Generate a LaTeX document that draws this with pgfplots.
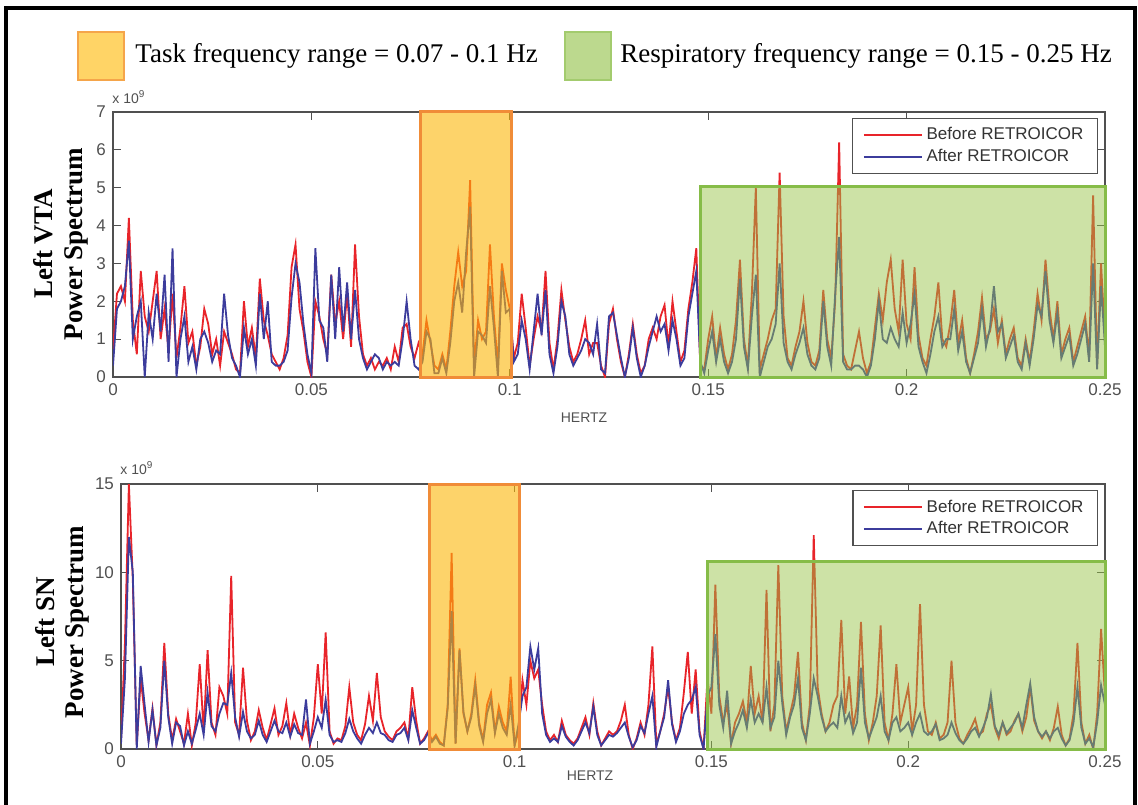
\documentclass[border=0pt]{standalone}
\usepackage{pgfplots}
\pgfplotsset{compat=1.18}
\usepackage{pgfplotstable}
\usepackage{fontspec}
\setmainfont{Liberation Serif}
\setsansfont{Liberation Sans}

\definecolor{befred}{HTML}{E8242A}
\definecolor{aftblue}{HTML}{3C3C9C}
\definecolor{taskfill}{RGB}{252,182,7}
\definecolor{taskedge}{HTML}{F08C38}
\definecolor{respfill}{RGB}{150,195,70}
\definecolor{respedge}{HTML}{86BC48}
\definecolor{axgray}{HTML}{505050}
\definecolor{keyorange}{HTML}{FFD466}
\definecolor{keyorangeedge}{HTML}{F5A54A}
\definecolor{keygreen}{HTML}{BCD98E}
\definecolor{keygreenedge}{HTML}{A3CB6E}

% power spectra, 1e9 units, one row per 0.001 Hz: b = before, a = after RETROICOR
\pgfplotstableread[row sep=\\]{
b a\\
0.7 0.3\\2.2 1.8\\2.4 2.0\\2.0 2.4\\4.2 3.6\\1.5 1.0\\0.6 1.6\\2.8 2.0\\1.6 0.0\\1.2 1.7\\
2.0 1.0\\2.8 2.2\\1.0 1.2\\1.8 2.7\\0.7 0.4\\2.2 3.4\\0.5 0.0\\1.3 1.0\\2.4 1.6\\0.9 0.4\\
1.2 0.8\\0.3 0.2\\0.8 1.0\\1.8 1.2\\1.4 0.9\\0.6 0.4\\1.0 0.7\\0.3 0.6\\1.2 2.2\\0.9 1.1\\
0.6 0.5\\0.2 0.3\\0.1 0.0\\2.0 1.3\\0.8 0.6\\1.3 1.0\\0.5 0.3\\2.6 2.2\\1.5 1.0\\1.1 2.0\\
0.6 0.4\\0.4 0.3\\0.2 0.3\\0.5 0.4\\1.1 0.7\\2.9 2.1\\3.5 3.0\\1.8 2.5\\1.2 1.4\\0.4 0.6\\
0.0 0.1\\2.0 3.4\\1.6 1.5\\1.0 1.3\\0.6 0.4\\2.7 2.7\\1.4 1.0\\2.0 2.9\\1.0 1.2\\2.2 2.5\\
0.8 1.0\\3.5 2.3\\1.6 1.0\\0.6 0.5\\0.3 0.2\\0.5 0.4\\0.2 0.6\\0.4 0.5\\0.3 0.2\\0.5 0.4\\
0.2 0.3\\0.8 0.4\\0.4 0.3\\1.3 1.0\\1.4 2.0\\0.8 1.0\\0.5 0.3\\0.9 0.2\\0.6 0.4\\1.5 1.2\\
0.9 1.0\\0.3 0.1\\0.2 0.1\\0.6 0.5\\0.2 0.1\\1.2 0.9\\2.4 2.0\\3.3 2.5\\2.4 1.7\\2.8 3.3\\
5.2 4.5\\0.3 0.0\\1.5 1.2\\1.0 1.1\\1.2 0.9\\3.5 2.4\\1.6 1.3\\0.3 0.0\\3.0 2.8\\2.3 1.7\\
1.8 1.8\\0.5 0.4\\0.9 0.6\\2.2 1.5\\1.3 1.0\\0.3 0.2\\1.0 1.2\\1.6 2.2\\1.2 1.1\\2.8 2.3\\
0.9 0.6\\0.2 0.1\\1.0 0.8\\2.3 2.0\\1.5 1.6\\0.8 0.6\\0.4 0.3\\0.6 0.5\\1.0 0.7\\1.5 1.0\\
0.6 0.9\\0.9 0.6\\0.9 1.4\\0.3 0.2\\0.0 0.1\\1.4 1.6\\1.8 1.7\\1.0 1.1\\0.4 0.5\\0.0 0.0\\
0.6 0.5\\1.4 1.3\\0.6 0.5\\0.1 0.0\\0.3 0.3\\1.0 0.8\\1.3 1.2\\1.0 1.6\\1.6 1.2\\1.9 1.4\\
0.8 0.7\\2.0 1.5\\1.2 1.0\\0.4 0.3\\0.7 0.5\\1.8 1.6\\2.5 2.2\\3.4 2.8\\0.3 0.4\\0.2 0.1\\
1.0 0.7\\1.6 1.2\\0.5 0.4\\1.3 1.0\\0.6 0.4\\0.2 0.1\\0.6 0.4\\1.5 1.0\\3.1 2.6\\1.0 0.8\\
0.3 0.2\\2.2 1.6\\5.0 2.7\\0.2 0.0\\0.6 0.4\\1.0 0.8\\1.5 1.0\\1.8 1.4\\5.4 3.0\\1.6 0.9\\
0.5 0.4\\0.3 0.2\\0.8 0.6\\1.2 0.9\\2.0 1.3\\0.9 0.6\\0.4 0.3\\0.3 0.2\\0.7 0.5\\2.3 2.0\\
1.0 0.8\\0.5 0.3\\2.0 2.2\\6.2 3.7\\0.6 0.4\\0.3 0.2\\0.2 0.2\\0.7 0.3\\1.2 0.3\\0.5 0.2\\
0.1 0.0\\0.4 0.3\\1.3 1.0\\2.2 2.0\\1.5 1.0\\2.5 0.9\\3.1 1.3\\1.8 1.0\\1.2 0.8\\3.1 1.7\\
1.4 0.9\\1.0 1.4\\2.9 2.2\\1.1 0.8\\0.5 0.4\\0.3 0.1\\1.0 0.6\\1.6 1.2\\2.5 1.6\\1.0 0.8\\
0.8 1.0\\1.4 1.0\\2.3 1.8\\0.9 0.7\\1.5 1.2\\0.5 0.4\\0.1 0.1\\0.6 0.5\\1.2 0.9\\2.1 1.8\\
1.0 0.8\\1.2 1.3\\1.8 2.4\\0.9 1.2\\1.5 1.4\\0.6 0.5\\1.0 0.8\\1.3 1.1\\0.5 0.4\\0.3 0.2\\
1.0 0.9\\0.4 0.3\\1.2 1.0\\2.2 1.9\\1.5 1.6\\3.1 2.8\\1.8 1.5\\1.0 0.9\\2.0 1.7\\0.6 0.5\\
1.0 0.8\\1.3 1.1\\0.4 0.3\\0.8 0.6\\1.2 1.0\\1.6 1.4\\0.5 0.4\\4.8 3.0\\0.3 0.2\\3.0 2.4\\
1.0 0.8\\
}\vta

\pgfplotstableread[row sep=\\]{
b a\\
0.5 0.3\\6.0 4.0\\15.0 12.0\\9.6 10.0\\0.2 0.0\\4.0 4.7\\2.0 2.5\\0.5 0.4\\2.3 2.2\\0.2 0.2\\
1.5 1.2\\6.0 5.0\\2.0 1.8\\0.5 0.3\\1.7 1.5\\1.0 1.3\\0.3 0.2\\2.0 1.0\\0.2 0.3\\1.5 1.1\\
4.8 2.0\\1.0 0.8\\5.6 3.2\\1.5 1.3\\0.8 1.0\\3.5 2.0\\3.0 2.6\\2.0 2.5\\9.8 4.3\\1.5 1.8\\
0.8 0.7\\4.6 2.1\\1.6 1.0\\0.5 0.6\\1.0 0.8\\2.2 1.6\\1.2 0.8\\0.5 0.4\\1.4 1.0\\2.3 1.6\\
0.8 1.0\\1.3 0.9\\2.6 1.5\\0.8 0.7\\2.0 1.4\\1.2 0.9\\0.6 0.8\\1.5 2.8\\0.2 0.3\\1.8 1.0\\
4.8 1.8\\2.0 1.2\\6.6 2.8\\1.0 0.8\\0.3 0.4\\0.6 0.5\\0.5 0.4\\1.3 0.9\\3.5 1.7\\1.5 1.0\\
0.8 0.6\\0.5 0.3\\1.4 0.8\\3.0 1.2\\1.6 0.9\\4.3 1.5\\1.8 0.9\\1.0 0.8\\0.7 0.5\\0.5 0.4\\
1.0 0.8\\1.2 0.9\\1.5 1.2\\0.6 0.5\\3.5 2.2\\1.6 1.2\\0.3 0.3\\0.6 0.5\\1.0 0.9\\0.5 0.4\\
0.8 0.7\\0.4 0.3\\0.2 0.2\\2.5 2.3\\11.1 7.8\\0.3 0.3\\5.7 5.6\\2.0 2.1\\1.0 1.0\\2.0 1.8\\
3.9 3.6\\1.5 1.3\\0.5 0.4\\2.5 2.0\\3.2 2.8\\1.0 0.9\\2.4 2.0\\1.5 1.2\\1.0 0.8\\4.1 2.5\\
0.2 0.2\\1.0 1.4\\3.9 3.0\\2.5 3.5\\5.0 5.8\\4.0 4.5\\4.5 5.7\\2.5 2.0\\1.0 0.8\\0.5 0.4\\
0.8 0.6\\0.4 0.4\\1.6 1.3\\0.8 0.7\\0.5 0.4\\0.3 0.2\\0.6 0.5\\1.2 1.0\\1.8 1.5\\0.8 0.9\\
2.6 2.4\\1.0 0.8\\0.2 0.2\\0.6 0.5\\1.0 0.8\\0.8 0.7\\1.0 0.9\\1.6 1.2\\2.5 1.5\\0.8 0.7\\
0.0 0.1\\0.6 0.5\\1.5 1.3\\0.8 0.9\\2.5 2.0\\5.8 3.0\\0.3 0.1\\1.0 1.0\\2.0 1.8\\3.5 3.9\\
1.5 1.4\\0.5 0.4\\1.2 1.0\\3.2 2.0\\5.5 2.5\\2.0 2.8\\4.5 3.5\\1.0 0.8\\0.0 0.0\\4.0 3.0\\
2.0 3.5\\9.3 6.5\\3.0 2.5\\1.5 1.2\\2.5 3.3\\0.3 0.3\\1.5 1.0\\2.0 1.5\\2.7 2.2\\1.5 1.2\\
4.7 2.8\\2.0 1.5\\3.0 2.0\\1.5 1.5\\9.0 3.5\\1.0 1.2\\2.5 1.8\\10.4 5.0\\3.0 2.6\\1.0 0.8\\
2.0 1.8\\3.0 2.5\\5.5 4.0\\1.5 1.2\\0.5 0.5\\2.5 2.0\\12.1 4.0\\3.5 3.0\\2.0 1.8\\1.0 1.0\\
1.5 1.3\\2.5 1.5\\3.0 1.2\\7.3 3.0\\2.0 1.5\\4.1 2.0\\1.2 0.9\\2.5 1.5\\7.2 4.6\\2.0 1.5\\
0.5 0.6\\1.5 1.2\\3.0 1.8\\7.0 3.0\\1.5 1.0\\0.5 0.5\\2.0 1.5\\4.8 1.8\\1.5 1.0\\2.5 1.2\\
3.5 1.5\\1.0 0.8\\2.5 1.5\\8.2 2.0\\2.5 1.0\\1.0 0.8\\0.8 1.0\\1.5 1.4\\0.6 0.5\\0.8 0.6\\
1.5 0.8\\5.0 1.5\\1.5 0.9\\0.6 0.5\\0.3 0.3\\0.8 0.6\\1.2 1.0\\1.7 1.2\\0.8 0.7\\1.0 1.2\\
2.0 1.8\\2.5 3.1\\1.2 1.3\\0.6 0.8\\1.5 1.5\\0.8 0.9\\1.0 1.2\\1.6 1.5\\2.0 2.0\\1.0 1.2\\
1.8 2.5\\3.5 3.7\\1.6 1.8\\1.0 1.0\\0.6 0.7\\1.0 1.0\\0.5 0.6\\1.2 1.0\\2.4 1.2\\0.8 0.6\\
0.2 0.2\\0.6 0.5\\2.0 1.5\\6.0 3.5\\1.5 1.2\\0.3 0.3\\0.8 0.6\\0.0 0.1\\2.0 1.5\\6.8 3.6\\
3.0 2.5\\
}\sn

\pgfplotsset{
  specaxis/.style={
    scale only axis, height=132.5pt,
    xmin=0, xmax=0.25, ymin=0,
    clip mode=individual,
    axis line style={axgray, line width=0.7pt},
    tick style={axgray, line width=0.6pt},
    major tick length=4pt,
    tick align=inside,
    xtick pos=both, ytick pos=both,
    xticklabel pos=lower, yticklabel pos=left,
    xtick={0,0.05,0.1,0.15,0.2,0.25},
    xticklabels={0,0.05,0.1,0.15,0.2,0.25},
    ticklabel style={font=\fontsize{8.5}{10}\sffamily, text=axgray},
    legend cell align=left,
    legend image code/.code={\draw[##1] (0pt,0pt) -- (29pt,0pt);},
    legend style={at={(0.993,0.977)}, anchor=north east,
      draw=axgray, line width=0.6pt, fill=white,
      font=\fontsize{8.5}{10}\sffamily, text=black!80,
      inner xsep=5pt, inner ysep=2.5pt, row sep=-1pt},
  },
  befstyle/.style={befred, line width=0.9pt},
  aftstyle/.style={aftblue, line width=0.9pt},
}

\begin{document}
\begin{tikzpicture}
\useasboundingbox (0,0) rectangle (569pt,402pt);

% frame round the figure
\draw[line width=2pt, black] (3pt,-2pt) -- (3pt,398pt) -- (567.5pt,398pt) -- (567.5pt,-2pt);

% key for the shaded bands
\draw[keyorangeedge, fill=keyorange, line width=1.2pt] (39pt,362pt) rectangle (62pt,386pt);
\node[anchor=west, font=\fontsize{13.5}{16}\selectfont, inner sep=0pt] at (67.5pt,374pt)
  {Task frequency range = 0.07 - 0.1 Hz};
\draw[keygreenedge, fill=keygreen, line width=1.2pt] (282.5pt,362pt) rectangle (305.5pt,386pt);
\node[anchor=west, font=\fontsize{13.5}{16}\selectfont, inner sep=0pt] at (310pt,374pt)
  {Respiratory frequency range = 0.15 - 0.25 Hz};

% ---------- Left VTA ----------
\begin{axis}[specaxis, at={(56.5pt,213.5pt)}, anchor=south west, width=496pt,
    ymax=7, ytick={0,1,...,7}, yticklabels={0,1,2,3,4,5,6,7}]
  \addplot[befstyle] table[x expr=\coordindex*0.001, y=b] {\vta};
  \addlegendentry{Before RETROICOR}
  \addplot[aftstyle] table[x expr=\coordindex*0.001, y=a] {\vta};
  \addlegendentry{After RETROICOR}
  \fill[taskfill, fill opacity=0.6] (axis cs:0.0775,0) rectangle (axis cs:0.1004,7);
  \draw[taskedge, line width=1.5pt] (axis cs:0.0775,0) rectangle (axis cs:0.1004,7);
  \fill[respfill, fill opacity=0.48] (axis cs:0.1481,0) rectangle (axis cs:0.25,5.03);
  \draw[respedge, line width=1.5pt] (axis cs:0.1481,0) rectangle (axis cs:0.25,5.03);
\end{axis}
\node[anchor=west, font=\fontsize{7}{8}\sffamily, text=axgray, inner sep=0pt] at (56pt,353.5pt) {x 10\textsuperscript{9}};
\node[font=\fontsize{7}{8}\sffamily, text=axgray] at (292pt,193pt) {HERTZ};
\node[rotate=90, font=\fontsize{13.5}{16}\selectfont\bfseries] at (21.5pt,280pt) {Left VTA};
\node[rotate=90, font=\fontsize{13.5}{16}\selectfont\bfseries] at (38pt,280pt) {Power Spectrum};

% ---------- Left SN ----------
\begin{axis}[specaxis, at={(60.5pt,27.5pt)}, anchor=south west, width=492pt,
    ymax=15, ytick={0,5,10,15}, yticklabels={0,5,10,15}]
  \addplot[befstyle] table[x expr=\coordindex*0.001, y=b] {\sn};
  \addlegendentry{Before RETROICOR}
  \addplot[aftstyle] table[x expr=\coordindex*0.001, y=a] {\sn};
  \addlegendentry{After RETROICOR}
  \fill[taskfill, fill opacity=0.6] (axis cs:0.0785,0) rectangle (axis cs:0.1012,15);
  \draw[taskedge, line width=1.5pt] (axis cs:0.0785,0) rectangle (axis cs:0.1012,15);
  \fill[respfill, fill opacity=0.48] (axis cs:0.1491,0) rectangle (axis cs:0.25,10.6);
  \draw[respedge, line width=1.5pt] (axis cs:0.1491,0) rectangle (axis cs:0.25,10.6);
\end{axis}
\node[anchor=west, font=\fontsize{7}{8}\sffamily, text=axgray, inner sep=0pt] at (60pt,168pt) {x 10\textsuperscript{9}};
\node[font=\fontsize{7}{8}\sffamily, text=axgray] at (295pt,14pt) {HERTZ};
\node[rotate=90, font=\fontsize{13.5}{16}\selectfont\bfseries] at (22.5pt,91pt) {Left SN};
\node[rotate=90, font=\fontsize{13.5}{16}\selectfont\bfseries] at (38.5pt,91pt) {Power Spectrum};
\end{tikzpicture}
\end{document}
